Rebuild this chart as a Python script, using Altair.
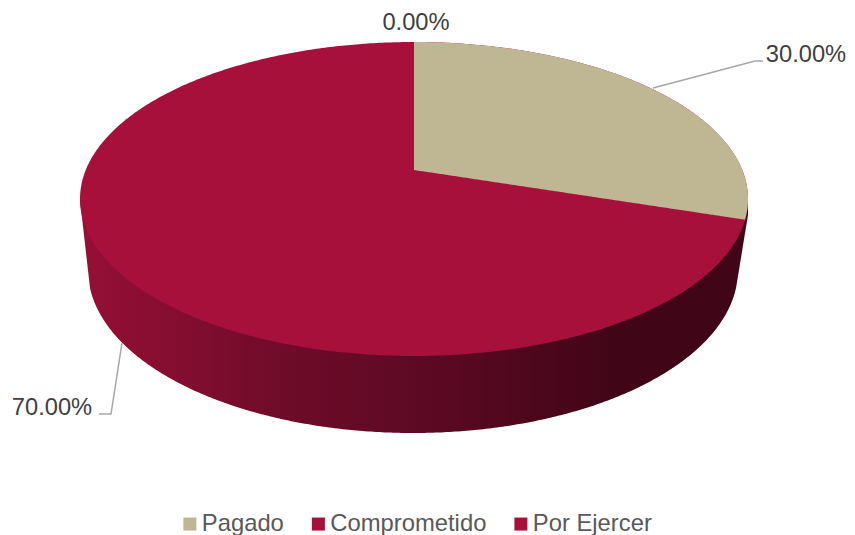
import numpy as np
import pandas as pd
import altair as alt

categories = ["Pagado", "Comprometido", "Por Ejercer"]
shares = [30.0, 0.0, 70.0]
colors = ["#BFB694", "#A6103B", "#A6103B"]
label_texts = ["30.00%", "0.00%", "70.00%"]

# layout of the perspective disc, in page pixels
CX, AX, AY = 414.0, 334.0, 170.0
TOP, BOTTOM = 42.0, 356.0
RIM_CX, RIM_A, RIM_CY, RIM_B = 413.0, 325.0, 270.0, 163.0
CY, B = (TOP + BOTTOM) / 2, (BOTTOM - TOP) / 2
K = ((BOTTOM - AY) - (AY - TOP)) / ((BOTTOM - AY) + (AY - TOP))
H = (AY - TOP) * (1 + K)
AR = AX * np.sqrt(1 - K * K)

xs_unit = np.sin(np.linspace(-np.pi / 2, np.pi / 2, 361))


def disc(x):
    r = np.sqrt(np.clip(1 - ((x - CX) / AX) ** 2, 0, 1))
    return CY - B * r, CY + B * r


# full top disc
x_top = CX + AX * xs_unit
up, lo = disc(x_top)
top_df = pd.DataFrame({"x": x_top, "y": up, "y2": lo, "cat": categories[2]})

# side wall (lower envelope of the top disc and the rim)
rim_x = RIM_CX + RIM_A * xs_unit
x_side = np.concatenate([np.linspace(80, 90, 12), rim_x[(rim_x > 90) & (rim_x < 736)], np.linspace(736, 748, 12)])
rim = RIM_CY + RIM_B * np.sqrt(np.clip(1 - ((x_side - RIM_CX) / RIM_A) ** 2, 0, 1))
rim = np.where(x_side <= 90, 200 + (x_side - 80) * 8.8, rim)
rim = np.where(x_side >= 736, 215 + (748 - x_side) * 6.1, rim)
side_df = pd.DataFrame({"x": x_side, "y": np.full_like(x_side, CY), "y2": rim})

# Pagado wedge: end angle comes from the share
theta = shares[0] / 100 * 2 * np.pi
den = 1 + K * np.cos(theta)
ex = CX + AR * np.sin(theta) / den
ey = AY - H * np.cos(theta) / den
x_w = CX + AX * np.sin(np.linspace(0, np.pi / 2, 181))
w_up, w_lo = disc(x_w)
edge = AY + (x_w - CX) * (ey - AY) / (ex - CX)
wedge_df = pd.DataFrame({"x": x_w, "y": w_up, "y2": np.minimum(edge, w_lo), "cat": categories[0]})

leader_df = pd.DataFrame({
    "x": [653, 755, 763, 122, 111, 99],
    "y": [88, 61, 61, 343, 414, 414],
    "g": ["a", "a", "a", "b", "b", "b"],
    "o": [0, 1, 2, 0, 1, 2],
})
label_df = pd.DataFrame({
    "x": [806, 416, 52],
    "y": [55, 23, 408],
    "t": label_texts,
})

X = alt.X("x:Q", axis=None, scale=alt.Scale(domain=[8, 847]))
Y = alt.Y("y:Q", axis=None, scale=alt.Scale(domain=[535, 8]))
color = alt.Color(
    "cat:N",
    scale=alt.Scale(domain=categories, range=colors),
    sort=categories,
    legend=alt.Legend(
        title=None, orient="none", direction="horizontal", columns=3,
        legendX=170, legendY=504, symbolType="square", symbolSize=169,
        symbolStrokeWidth=0, labelFont="Liberation Sans", labelFontSize=23.8,
        labelColor="#595959", labelOffset=0, columnPadding=22.5, labelLimit=300,
    ),
)

side = alt.Chart(side_df).mark_area(
    color=alt.Gradient(
        gradient="linear", x1=0, x2=1, y1=0, y2=0,
        stops=[
            alt.GradientStop(color="#960F36", offset=0.0),
            alt.GradientStop(color="#6C0B29", offset=0.33),
            alt.GradientStop(color="#5A0922", offset=0.55),
            alt.GradientStop(color="#410518", offset=0.8),
            alt.GradientStop(color="#410518", offset=1.0),
        ],
    )
).encode(X, Y, y2="y2:Q")

top = alt.Chart(top_df).mark_area().encode(X, Y, y2="y2:Q", color=color)
wedge = alt.Chart(wedge_df).mark_area().encode(X, Y, y2="y2:Q", color=color)
lines = alt.Chart(leader_df).mark_line(color="#A6A6A6", strokeWidth=1.5).encode(X, Y, detail="g:N", order="o:Q")
labels = alt.Chart(label_df).mark_text(
    font="Liberation Sans", fontSize=23.7, color="#404040", align="center", baseline="middle"
).encode(X, Y, text="t:N")

chart = (
    alt.layer(side, top, wedge, lines, labels)
    .properties(width=839, height=527, padding=0, autosize=alt.AutoSizeParams(type="none"))
    .configure_view(stroke=None)
)
chart.save("out.html", embed_options={"renderer": "svg", "actions": False})
